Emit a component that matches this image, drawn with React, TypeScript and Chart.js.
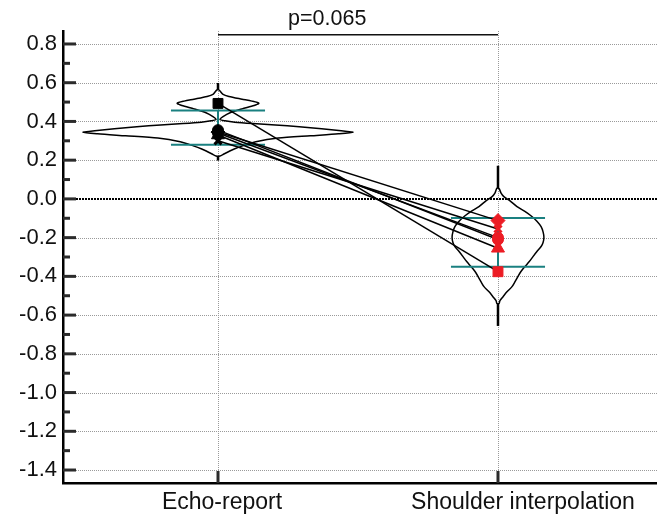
import React, { useEffect, useRef } from 'react';
import { Chart, registerables } from 'chart.js';
Chart.register(...registerables);

// ---------------- data ----------------
const categories = ['Echo-report', 'Shoulder interpolation'];
const yTicks = [-1.4, -1.2, -1.0, -0.8, -0.6, -0.4, -0.2, 0.0, 0.2, 0.4, 0.6, 0.8];
const pLabel = 'p=0.065';

const markerStyles = ['rect', 'rectRot', 'crossRot', 'circle', 'triangle', 'circle'];
const echoValues = [0.493, 0.345, 0.300, 0.355, 0.330, 0.340];
const shoulderValues = [-0.376, -0.112, -0.155, -0.210, -0.255, -0.200];

// error bars (lower, upper)
const echoBar = [0.279, 0.456];
const shoulderBar = [-0.350, -0.098];
// whisker extremes (min, max)
const echoWhisker = [0.198, 0.598];
const shoulderWhisker = [-0.656, 0.171];

// violin profiles: value and half-width (in category units)
const echoViolinY = [0.563, 0.540, 0.529, 0.515, 0.505, 0.494, 0.482, 0.465, 0.445, 0.425, 0.410, 0.403, 0.396, 0.389, 0.382, 0.372, 0.362, 0.352, 0.344, 0.336, 0.326, 0.314, 0.295, 0.274, 0.258, 0.245, 0.232, 0.222];
const echoViolinW = [0.004, 0.018, 0.039, 0.086, 0.121, 0.146, 0.129, 0.086, 0.043, 0.018, 0.007, 0.025, 0.060, 0.125, 0.205, 0.290, 0.370, 0.440, 0.482, 0.430, 0.330, 0.215, 0.135, 0.088, 0.058, 0.039, 0.021, 0.007];
const shoulderViolinY = [0.055, 0.030, 0.012, -0.010, -0.040, -0.065, -0.091, -0.115, -0.143, -0.170, -0.198, -0.225, -0.246, -0.272, -0.298, -0.325, -0.350, -0.375, -0.401, -0.427, -0.453, -0.480, -0.505, -0.525, -0.540];
const shoulderViolinW = [0.004, 0.011, 0.021, 0.043, 0.068, 0.096, 0.121, 0.139, 0.154, 0.161, 0.164, 0.161, 0.154, 0.139, 0.125, 0.111, 0.096, 0.082, 0.071, 0.061, 0.050, 0.032, 0.018, 0.007, 0.004];

// ---------------- styling ----------------
const FONT = '"Liberation Sans", Arial, Helvetica, sans-serif';
const TEAL = '#1a8080';
const RED = '#ec1c24';
const BAR_HALF = 0.168;
const X_MIN = -0.5536;
const X_MAX = 1.5679;
const Y_MIN = -1.467;
const Y_MAX = 0.867;
const BRACKET_Y = 0.847;
const P_TEXT_X = 0.39;
const LABEL_SHIFT = [4, 25];
const markerRadius: Record<string, number> = { rect: 7, rectRot: 7, crossRot: 5, circle: 5.5, triangle: 7.5 };
const markerBorder: Record<string, number> = { rect: 1, rectRot: 1, crossRot: 3, circle: 1, triangle: 1 };

function violinPoints(cx: number, ys: number[], ws: number[]) {
  const right = ys.map((y, i) => ({ x: cx + ws[i], y }));
  const left = ys.map((y, i) => ({ x: cx - ws[i], y })).reverse();
  return [...right, ...left, right[0]];
}

function lineDs(data: { x: number; y: number }[], color: string, width: number, order: number, tension = 0) {
  return {
    data,
    showLine: true,
    borderColor: color,
    borderWidth: width,
    pointRadius: 0,
    pointHoverRadius: 0,
    fill: false,
    tension,
    order,
  };
}

const decorPlugin = {
  id: 'decor',
  beforeDatasetsDraw(chart: any) {
    const { ctx, chartArea, scales } = chart;
    const y = scales.y;
    const x = scales.x;
    ctx.save();
    // grid lines
    ctx.lineWidth = 1;
    ctx.strokeStyle = '#9a9a9a';
    ctx.setLineDash([1, 1]);
    yTicks.forEach((v) => {
      if (Math.abs(v) < 1e-9) return;
      const py = Math.round(y.getPixelForValue(v)) + 0.5;
      ctx.beginPath();
      ctx.moveTo(chartArea.left + 13, py);
      ctx.lineTo(chartArea.right, py);
      ctx.stroke();
    });
    categories.forEach((_, i) => {
      const px = Math.round(x.getPixelForValue(i)) + 0.5;
      ctx.beginPath();
      ctx.moveTo(px, chartArea.top);
      ctx.lineTo(px, chartArea.bottom - 12);
      ctx.stroke();
    });
    // zero line
    const pz = Math.round(y.getPixelForValue(0));
    ctx.strokeStyle = '#000';
    ctx.lineWidth = 2;
    ctx.setLineDash([2, 1]);
    ctx.beginPath();
    ctx.moveTo(chartArea.left + 13, pz);
    ctx.lineTo(chartArea.right, pz);
    ctx.stroke();
    ctx.setLineDash([]);
    // inward ticks
    ctx.strokeStyle = '#2b2b2b';
    ctx.lineWidth = 3;
    yTicks.forEach((v, i) => {
      const py = y.getPixelForValue(v);
      ctx.beginPath();
      ctx.moveTo(chartArea.left, py);
      ctx.lineTo(chartArea.left + 13, py);
      ctx.stroke();
      if (i < yTicks.length - 1) {
        const pm = y.getPixelForValue((v + yTicks[i + 1]) / 2);
        ctx.beginPath();
        ctx.moveTo(chartArea.left, pm);
        ctx.lineTo(chartArea.left + 7, pm);
        ctx.stroke();
      }
    });
    categories.forEach((_, i) => {
      const px = x.getPixelForValue(i);
      ctx.beginPath();
      ctx.moveTo(px, chartArea.bottom);
      ctx.lineTo(px, chartArea.bottom - 12);
      ctx.stroke();
    });
    ctx.restore();
  },
  afterDraw(chart: any) {
    const { ctx, scales, chartArea } = chart;
    const x = scales.x;
    const y = scales.y;
    const by = y.getPixelForValue(BRACKET_Y);
    ctx.save();
    ctx.strokeStyle = '#111';
    ctx.lineWidth = 1.5;
    ctx.beginPath();
    ctx.moveTo(x.getPixelForValue(0), by);
    ctx.lineTo(x.getPixelForValue(1), by);
    ctx.stroke();
    ctx.fillStyle = '#111';
    ctx.font = `21.5px ${FONT}`;
    ctx.textAlign = 'center';
    ctx.textBaseline = 'middle';
    ctx.fillText(pLabel, x.getPixelForValue(P_TEXT_X), by - 16);
    // category labels
    ctx.font = `23px ${FONT}`;
    categories.forEach((c, i) => {
      ctx.fillText(c, x.getPixelForValue(i) + LABEL_SHIFT[i], chartArea.bottom + 20);
    });
    ctx.restore();
  },
};

export default function App() {
  const ref = useRef<HTMLCanvasElement>(null);
  useEffect(() => {
    document.body.style.margin = '0';
    const canvas = ref.current;
    if (!canvas) return;

    const datasets: any[] = [];
    // violins
    datasets.push(lineDs(violinPoints(0, echoViolinY, echoViolinW), '#000', 1.5, 4, 0.25));
    datasets.push(lineDs(violinPoints(1, shoulderViolinY, shoulderViolinW), '#000', 1.5, 4, 0.25));
    // whisker stems
    datasets.push(lineDs([{ x: 0, y: echoWhisker[1] }, { x: 0, y: echoViolinY[0] }], '#000', 2.5, 4));
    datasets.push(lineDs([{ x: 0, y: echoWhisker[0] }, { x: 0, y: echoViolinY[echoViolinY.length - 1] }], '#000', 2.5, 4));
    datasets.push(lineDs([{ x: 1, y: shoulderWhisker[1] }, { x: 1, y: shoulderViolinY[0] }], '#000', 2.5, 4));
    datasets.push(lineDs([{ x: 1, y: shoulderWhisker[0] }, { x: 1, y: shoulderViolinY[shoulderViolinY.length - 1] }], '#000', 2.5, 4));
    // teal error bars
    [[0, echoBar], [1, shoulderBar]].forEach(([cx, bar]: any) => {
      datasets.push(lineDs([{ x: cx, y: bar[0] }, { x: cx, y: bar[1] }], TEAL, 2, 3));
      bar.forEach((v: number) => {
        datasets.push(lineDs([{ x: cx - BAR_HALF, y: v }, { x: cx + BAR_HALF, y: v }], TEAL, 2, 3));
      });
    });
    // paired lines
    echoValues.forEach((v, i) => {
      datasets.push(lineDs([{ x: 0, y: v }, { x: 1, y: shoulderValues[i] }], '#000', 1.5, 2));
    });
    // markers
    const mk = (cx: number, vals: number[], color: string) => ({
      data: vals.map((v) => ({ x: cx, y: v })),
      showLine: false,
      pointStyle: markerStyles,
      pointRadius: markerStyles.map((s) => markerRadius[s]),
      pointHoverRadius: markerStyles.map((s) => markerRadius[s]),
      pointBorderWidth: markerStyles.map((s) => markerBorder[s]),
      pointBackgroundColor: color,
      pointBorderColor: color,
      order: 0,
    });
    datasets.push(mk(0, echoValues, '#000'));
    datasets.push(mk(1, shoulderValues, RED));

    const chart = new Chart(canvas, {
      type: 'scatter',
      data: { datasets },
      plugins: [decorPlugin],
      options: {
        responsive: false,
        animation: false,
        events: [],
        layout: { autoPadding: false, padding: { top: 31, right: 0, left: 0, bottom: 0 } },
        plugins: { legend: { display: false }, tooltip: { enabled: false } },
        scales: {
          x: {
            type: 'linear',
            min: X_MIN,
            max: X_MAX,
            afterBuildTicks: (s: any) => {
              s.ticks = categories.map((_, i) => ({ value: i }));
            },
            afterFit: (s: any) => {
              s.height = 33;
              s.paddingLeft = 0;
              s.paddingRight = 0;
            },
            ticks: { display: false },
            grid: { display: false, drawTicks: false },
            border: { display: true, color: '#000', width: 2.5 },
          },
          y: {
            type: 'linear',
            min: Y_MIN,
            max: Y_MAX,
            afterBuildTicks: (s: any) => {
              s.ticks = yTicks.map((v) => ({ value: v }));
            },
            afterFit: (s: any) => {
              s.width = 63;
              s.paddingTop = 0;
              s.paddingBottom = 0;
            },
            ticks: {
              autoSkip: false,
              padding: 6,
              color: '#111',
              font: { family: FONT, size: 22 },
              callback: (v: any) => Number(v).toFixed(1),
            },
            grid: { display: false, drawTicks: false },
            border: { display: true, color: '#000', width: 2.5 },
          },
        },
      } as any,
    });
    return () => chart.destroy();
  }, []);

  return (
    <div style={{ width: 657, height: 516 }}>
      <canvas ref={ref} width={657} height={516} style={{ display: 'block' }} />
    </div>
  );
}
